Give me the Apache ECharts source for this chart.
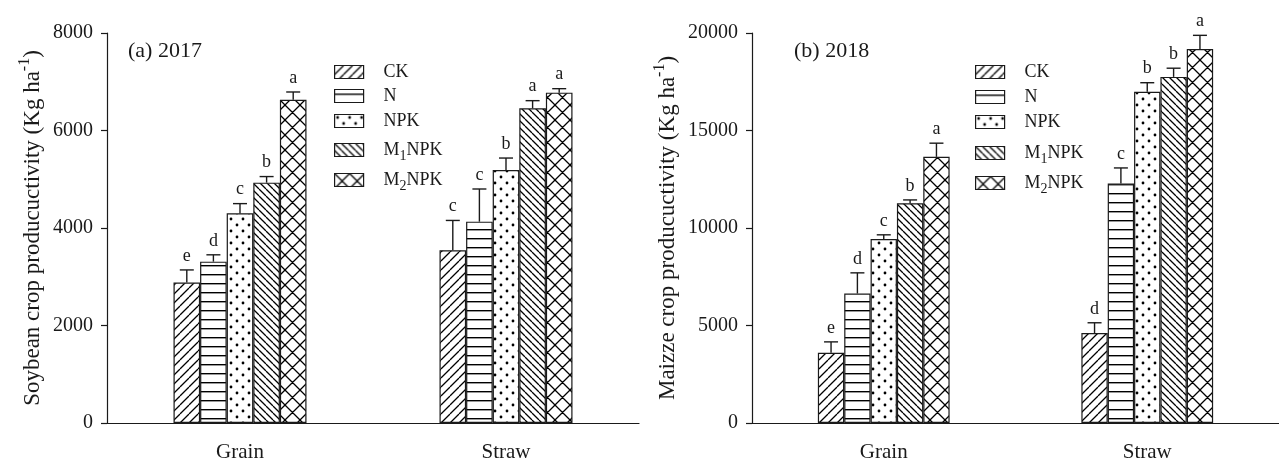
<!DOCTYPE html>
<html><head><meta charset="utf-8">
<script src="https://cdn.jsdelivr.net/npm/echarts@6/dist/echarts.min.js"></script>
<style>html,body{margin:0;padding:0;background:#fff}#c{width:1279px;height:464px}</style>
</head><body><div id="c"></div>
<script>
// ---- data ----
const categories = ['Grain', 'Straw'];
const treatments = ['CK', 'N', 'NPK', 'M1NPK', 'M2NPK'];
const yTicks2017 = [0, 2000, 4000, 6000, 8000];
const yTicks2018 = [0, 5000, 10000, 15000, 20000];

// 2017 soybean (order: CK, N, NPK, M1NPK, M2NPK)
const soyGrain   = [2880, 3310, 4300, 4930, 6630];
const soyGrainSD = [260, 140, 200, 125, 160];
const soyGrainLetters = ['e', 'd', 'c', 'b', 'a'];
const soyStraw   = [3545, 4130, 5190, 6455, 6776];
const soyStrawSD = [610, 670, 245, 157, 82];
const soyStrawLetters = ['c', 'c', 'b', 'a', 'a'];

// 2018 maize
const maizeGrain   = [3600, 6640, 9430, 11270, 13650];
const maizeGrainSD = [560, 1060, 220, 170, 700];
const maizeGrainLetters = ['e', 'd', 'c', 'b', 'a'];
const maizeStraw   = [4610, 12280, 16990, 17750, 19180];
const maizeStrawSD = [530, 800, 460, 445, 700];
const maizeStrawLetters = ['d', 'c', 'b', 'b', 'a'];

// ---- styling ----
const FONT = '"Liberation Serif","Times New Roman",serif';
const INK = '#1a1a1a';

function tile(w, h, draw) {
  const cv = document.createElement('canvas');
  cv.width = w; cv.height = h;
  const ctx = cv.getContext('2d');
  ctx.fillStyle = '#ffffff'; ctx.fillRect(0, 0, w, h);
  ctx.strokeStyle = '#000'; ctx.fillStyle = '#000'; ctx.lineWidth = 1.3;
  draw(ctx, w, h);
  return {image: cv, repeat: 'repeat'};
}
const patterns = [
  tile(9, 9, (ctx, s) => { ctx.beginPath(); for (let k = -1; k <= 1; k++) { ctx.moveTo(k * s, s); ctx.lineTo(k * s + s, 0); } ctx.stroke(); }),
  tile(4, 9, (ctx) => { ctx.fillRect(0, 4, 4, 1.4); }),
  tile(12, 12, (ctx) => { ctx.beginPath(); ctx.arc(3, 3, 1.4, 0, 2 * Math.PI); ctx.moveTo(10.4, 9); ctx.arc(9, 9, 1.4, 0, 2 * Math.PI); ctx.fill(); }),
  tile(7, 7, (ctx, s) => { ctx.beginPath(); for (let k = -1; k <= 1; k++) { ctx.moveTo(k * s, 0); ctx.lineTo(k * s + s, s); } ctx.stroke(); }),
  tile(15, 15, (ctx, w, h) => {
    ctx.lineWidth = 1.3; ctx.beginPath();
    for (let dx = -1; dx <= 1; dx++) for (let dy = -1; dy <= 1; dy++) {
      ctx.moveTo(dx * w, dy * h); ctx.lineTo(dx * w + w, dy * h + h);
      ctx.moveTo(dx * w + w, dy * h); ctx.lineTo(dx * w, dy * h + h);
    }
    ctx.stroke();
  })
];
const legendLabel = {
  'CK': '{a|CK}', 'N': '{a|N}', 'NPK': '{a|NPK}',
  'M1NPK': '{a|M}{sub|1}{m|NPK}', 'M2NPK': '{a|M}{sub|2}{m|NPK}'
};

const charts = [
  {left: 107, width: 532, max: 8000, interval: 2000, ticks: yTicks2017,
   name: 'Soybean crop producuctivity (Kg ha{sup|-1})', nameGap: 58,
   vals: [soyGrain, soyStraw], sds: [soyGrainSD, soyStrawSD], letters: [soyGrainLetters, soyStrawLetters],
   legendLeft: 334, legendTops: [63, 87, 112, 137, 167], label: '(a) 2017', labelX: 128},
  {left: 752, width: 536, max: 20000, interval: 5000, ticks: yTicks2018,
   name: 'Maizze crop producuctivity (Kg ha{sup|-1})', nameGap: 61,
   vals: [maizeGrain, maizeStraw], sds: [maizeGrainSD, maizeStrawSD], letters: [maizeGrainLetters, maizeStrawLetters],
   legendLeft: 975, legendTops: [63, 88, 113, 140, 170], label: '(b) 2018', labelX: 794}
];

const grid = [], xAxis = [], yAxis = [], series = [], legend = [], graphic = [];
charts.forEach((c, g) => {
  grid.push({left: c.left, width: c.width, top: 33, bottom: 41});
  xAxis.push({
    type: 'category', gridIndex: g, data: categories,
    axisLine: {lineStyle: {color: INK, width: 1.2}},
    axisTick: {alignWithLabel: true, length: 5, lineStyle: {color: INK, width: 1.2}},
    axisLabel: {fontFamily: FONT, fontSize: 21, color: INK, margin: 19}
  });
  yAxis.push({
    type: 'value', gridIndex: g, min: 0, max: c.max, interval: c.interval,
    splitLine: {show: false},
    axisLine: {show: true, lineStyle: {color: INK, width: 1.2}},
    axisTick: {show: true, length: 6, lineStyle: {color: INK, width: 1.2}},
    axisLabel: {fontFamily: FONT, fontSize: 20, color: INK, margin: 14,
      formatter: (v) => (c.ticks.indexOf(v) >= 0 ? String(v) : '')},
    name: c.name, nameLocation: 'middle', nameRotate: 90, nameGap: c.nameGap,
    nameTextStyle: {fontFamily: FONT, fontSize: 23, color: INK, lineHeight: 23,
      rich: {sup: {fontFamily: FONT, fontSize: 16, color: INK, lineHeight: 32, padding: [0, 0, 16, 0]}}}
  });
  treatments.forEach((t, i) => {
    const values = categories.map((_, k) => c.vals[k][i]);
    series.push({
      name: t, type: 'bar', xAxisIndex: g, yAxisIndex: g,
      barWidth: '10%', barGap: '0%',
      data: values,
      itemStyle: {color: patterns[i], borderColor: INK, borderWidth: 1.2},
      emphasis: {disabled: true}, z: 2
    });
    const tops = categories.map((_, k) => c.vals[k][i] + c.sds[k][i]);
    const lets = categories.map((_, k) => c.letters[k][i]);
    series.push({
      name: t + '-err-' + g, type: 'custom', xAxisIndex: g, yAxisIndex: g, silent: true, z: 5,
      data: categories.map((_, k) => [k, values[k], tops[k]]),
      renderItem: function (params, api) {
        const k = api.value(0);
        const p0 = api.coord([k, api.value(1)]);
        const p1 = api.coord([k, api.value(2)]);
        const bw = api.size([1, 0])[0] * 0.1;
        const x = p0[0] + (i - 2) * bw;
        const cap = 7;
        const ls = {stroke: INK, lineWidth: 1.4};
        return {type: 'group', children: [
          {type: 'line', shape: {x1: x, y1: p0[1], x2: x, y2: p1[1]}, style: ls},
          {type: 'line', shape: {x1: x - cap, y1: p1[1], x2: x + cap, y2: p1[1]}, style: ls},
          {type: 'text', x: x, y: p1[1] - 5, style: {text: lets[params.dataIndex], textAlign: 'center', textVerticalAlign: 'bottom', font: '18px ' + FONT, fill: INK}}
        ]};
      }
    });
    legend.push({
      data: [t], left: c.legendLeft, top: c.legendTops[i], padding: 0, orient: 'vertical',
      itemWidth: 29, itemHeight: 13, selectedMode: false,
      icon: 'rect',
      itemStyle: {color: patterns[i], borderColor: INK, borderWidth: 1.2},
      formatter: (n) => legendLabel[n],
      textStyle: {fontFamily: FONT, fontSize: 18, color: INK,
        rich: {
          a: {fontFamily: FONT, fontSize: 18, color: INK, lineHeight: 18, padding: [0, 0, 0, 15]},
          m: {fontFamily: FONT, fontSize: 18, color: INK, lineHeight: 18},
          sub: {fontFamily: FONT, fontSize: 14, color: INK, lineHeight: 26, padding: [12, 0, 0, 0]}
        }}
    });
  });
  graphic.push({type: 'text', left: c.labelX, top: 40, style: {text: c.label, font: '22px ' + FONT, fill: INK}});
});

const chart = echarts.init(document.getElementById('c'), null, {renderer: 'canvas'});
chart.setOption({
  backgroundColor: '#ffffff',
  animation: false,
  grid, xAxis, yAxis, series, legend, graphic
});
</script>
</body></html>
